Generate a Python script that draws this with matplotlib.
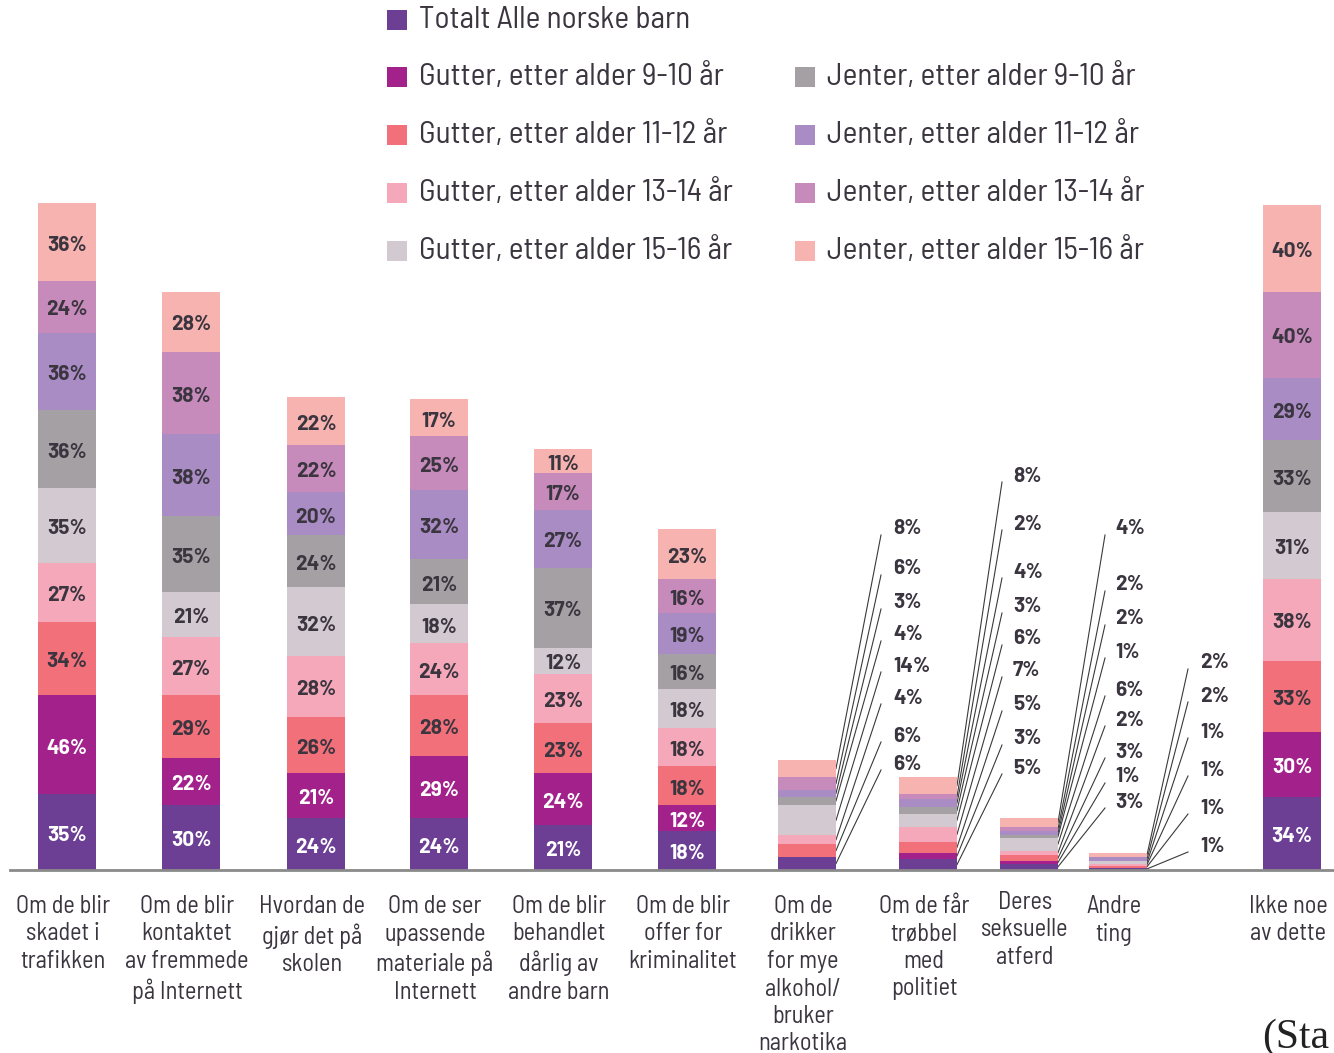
import numpy as np
import matplotlib
matplotlib.use("Agg")
import matplotlib.pyplot as plt

# kategorier (x-akse)
kategorier = [
    "Om de blir\nskadet i\ntrafikken",
    "Om de blir\nkontaktet\nav fremmede\npå Internett",
    "Hvordan de\ngjør det på\nskolen",
    "Om de ser\nupassende\nmateriale på\nInternett",
    "Om de blir\nbehandlet\ndårlig av\nandre barn",
    "Om de blir\noffer for\nkriminalitet",
    "Om de\ndrikker\nfor mye\nalkohol/\nbruker\nnarkotika",
    "Om de får\ntrøbbel\nmed\npolitiet",
    "Deres\nseksuelle\natferd",
    "Andre\nting",
    "Ikke noe\nav dette",
]

# serier, nedenfra og opp i hver stolpe (prosent)
totalt       = [35, 30, 24, 24, 21, 18, 6, 5, 3, 1, 34]
gutter_9_10  = [46, 22, 21, 29, 24, 12, 0, 3, 1, 0, 30]
gutter_11_12 = [34, 29, 26, 28, 23, 18, 6, 5, 3, 1, 33]
gutter_13_14 = [27, 27, 28, 24, 23, 18, 4, 7, 2, 1, 38]
gutter_15_16 = [35, 21, 32, 18, 12, 18, 14, 6, 6, 1, 31]
jenter_9_10  = [36, 35, 24, 21, 37, 16, 4, 3, 1, 0, 33]
jenter_11_12 = [36, 38, 20, 32, 27, 19, 3, 4, 2, 2, 29]
jenter_13_14 = [24, 38, 22, 25, 17, 16, 6, 2, 2, 0, 40]
jenter_15_16 = [36, 28, 22, 17, 11, 23, 8, 8, 4, 2, 40]

serienavn = ["Totalt Alle norske barn",
             "Gutter, etter alder 9-10 år", "Gutter, etter alder 11-12 år",
             "Gutter, etter alder 13-14 år", "Gutter, etter alder 15-16 år",
             "Jenter, etter alder 9-10 år", "Jenter, etter alder 11-12 år",
             "Jenter, etter alder 13-14 år", "Jenter, etter alder 15-16 år"]
serier = [totalt, gutter_9_10, gutter_11_12, gutter_13_14, gutter_15_16,
          jenter_9_10, jenter_11_12, jenter_13_14, jenter_15_16]
farger = ["#6c3f94", "#a2218b", "#f1707a", "#f5a8b9", "#d3c9d1",
          "#a5a0a4", "#a98cc4", "#c68abb", "#f7b3af"]
hvit_tekst = [True, True, False, False, False, False, False, False, False]

# layout (piksler)
xpos = [67, 191, 316, 439, 563, 687, 807, 928, 1029, 1118, 1292]
bredde = 58
grunnlinje = 870
skala = 667 / 309  # piksler per prosentpoeng

# små stolper: etikett-x, linjeslutt-x, etikett-y (ovenfra og ned)
sma = {
    6: (893, 881, [529, 569, 603, 635, 666, 698, 736, 764]),
    7: (1013, 1002, [476, 524, 572, 607, 639, 671, 705, 739, 768]),
    8: (1115, 1105, [529, 585, 619, 652, 690, 720, 752, 777, 802]),
    9: (1200, 1188, [663, 696, 732, 770, 808, 846]),
}

FONT = ["Barlow Semi Condensed", "DejaVu Sans"]
TALL = ["Barlow", "DejaVu Sans"]
TEKST = "#3b3540"
W, H = 1334, 1053


def py(p):
    return (grunnlinje - p) / skala


fig = plt.figure(figsize=(W / 100, H / 100), dpi=100)
ax = fig.add_axes([0, 0, 1, 1])
ax.set_xlim(0, W)
ax.set_ylim(py(H), py(0))
ax.axis("off")

data = np.array(serier, dtype=float)
bunn = np.zeros(len(kategorier))
for i, verdier in enumerate(data):
    ax.bar(xpos, verdier, bottom=bunn, width=bredde, color=farger[i],
           linewidth=0, zorder=2)
    for j, v in enumerate(verdier):
        if v > 0 and j not in sma:
            ax.text(xpos[j], bunn[j] + v / 2 - 1.5, f"{int(v)}%",
                    ha="center", va="center", fontsize=15, family=TALL,
                    fontweight="bold",
                    color="white" if hvit_tekst[i] else TEKST, zorder=3)
    bunn += verdier

# etiketter med linjer for de små stolpene
for j, (lx, ex, ys) in sma.items():
    segs = []
    b = 0
    for i in range(len(serier)):
        v = data[i, j]
        if v > 0:
            segs.append((b + v / 2, int(v)))
        b += v
    segs = segs[::-1]
    for (midt, v), ly in zip(segs, ys):
        ax.plot([xpos[j] + bredde / 2, ex], [midt, py(ly + 6)],
                color="#3a3a3a", lw=0.8, zorder=1)
        ax.text(lx, py(ly), f"{v}%", ha="left", va="center", fontsize=15,
                family=TALL, fontweight="bold", color=TEKST)

# grunnlinje
ax.plot([10, W], [0, 0], color="#8a8a8a", lw=2, zorder=4)

# kategorietiketter
for j, navn in enumerate(kategorier):
    topp = 891 if j == 8 else 895
    ax.text(xpos[j] - 4, py(topp), navn, ha="center", va="top", fontsize=17.5,
            family=FONT, color=TEKST, linespacing=1.25)

# tegnforklaring
leg_x = [387, 795]
leg_y = [20, 77, 135, 193, 251]
plasser = [(0, 0), (0, 1), (0, 2), (0, 3), (0, 4),
           (1, 1), (1, 2), (1, 3), (1, 4)]
for (kol, rad), navn, farge in zip(plasser, serienavn, farger):
    x0 = leg_x[kol]
    ax.add_patch(plt.Rectangle((x0, py(leg_y[rad] + 10)), 20, 20 / skala,
                               color=farge, lw=0))
    ax.text(x0 + 32, py(leg_y[rad]), navn, ha="left", va="center",
            fontsize=22.5, family=FONT, color=TEKST)

ax.text(1262, py(1048), "(Sta", ha="left", va="baseline", fontsize=30,
        family=["Liberation Serif", "DejaVu Serif"], color="#222222")

fig.savefig("out.png", dpi=100)
